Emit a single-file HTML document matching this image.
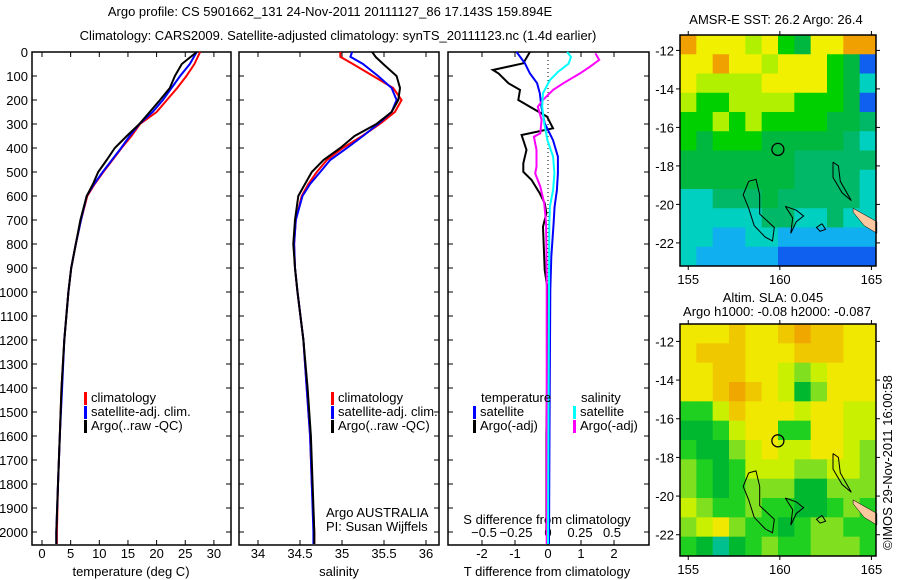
<!DOCTYPE html>
<html><head><meta charset="utf-8"><style>
body{margin:0;background:#fff}
svg{display:block;font-family:"Liberation Sans",sans-serif;font-size:13px}
</style></head><body>
<svg id="fig" width="900" height="580" viewBox="0 0 900 580">
<rect width="900" height="580" fill="#fff"/>
<text x="330" y="16" text-anchor="middle">Argo profile: CS 5901662_131 24-Nov-2011 20111127_86 17.143S 159.894E</text>
<text x="338" y="40" text-anchor="middle">Climatology: CARS2009. Satellite-adjusted climatology: synTS_20111123.nc (1.4d earlier)</text>
<text x="776" y="24" text-anchor="middle">AMSR-E SST: 26.2 Argo: 26.4</text>
<text x="773" y="302" text-anchor="middle">Altim. SLA: 0.045</text>
<text x="777" y="316" text-anchor="middle">Argo h1000: -0.08 h2000: -0.087</text>
<text transform="translate(892,550) rotate(-90)">©IMOS 29-Nov-2011 16:00:58</text>
<g id="g"></g>
</svg>
<script>
// ---- profile data ----
const tDepth=[0,50,100,150,200,250,300,350,400,450,500,550,600,700,800,900,1000,1200,1400,1600,1800,2000,2050];
const tClim=[27.6,26.6,25.2,23.6,21.8,20,17.1,15.6,13.9,12.3,10.7,9.2,7.9,6.8,5.9,5.1,4.6,3.9,3.4,3.1,2.8,2.6,2.6];
const tSat=[27,25.8,24.1,22.6,21.1,19.3,17,15.3,13.8,12.2,10.6,9.1,7.8,6.8,5.9,5.1,4.6,3.9,3.5,3.1,2.8,2.5,2.5];
const tArgo=[27,24.4,23.2,22.3,20.6,18.8,17,14.8,12.7,11.3,9.8,8.9,7.8,6.7,5.9,5.1,4.6,3.9,3.4,3.1,2.8,2.5,2.5];
const sDepth=[0,20,50,100,150,200,250,300,350,400,450,500,550,600,700,800,900,1000,1200,1400,1600,1800,2000,2050];
const sClim=[34.98,34.98,35.13,35.37,35.61,35.71,35.63,35.45,35.24,35.01,34.82,34.70,34.60,34.52,34.45,34.43,34.44,34.47,34.54,34.58,34.62,34.64,34.67,34.67];
const sSat=[35.12,35.1,35.25,35.43,35.59,35.65,35.59,35.43,35.25,35.06,34.86,34.74,34.62,34.53,34.45,34.43,34.44,34.47,34.54,34.58,34.62,34.64,34.66,34.66];
const sArgo=[35.36,35.4,35.49,35.65,35.69,35.67,35.59,35.41,35.15,34.98,34.78,34.64,34.56,34.48,34.44,34.42,34.44,34.47,34.54,34.59,34.63,34.65,34.67,34.67];
const dtArgoDepth=[0,47,75,89,130,158,200,228,269,318,346,408,464,499,533,589,630,672,728,908,1000,1600,1900,2000];
const dtArgo=[-0.55,-0.75,-1.67,-1.5,-1.2,-0.85,-0.9,-0.55,-0.03,0.15,-0.8,-0.65,-0.75,-0.75,-0.5,-0.25,-0.1,-0.05,-0.15,-0.1,0,-0.05,-0.05,-0.05];
const dtSatDepth=[0,47,89,130,172,228,297,367,436,506,575,644,714,853,992,1500,2050];
const dtSat=[-0.95,-0.7,-0.55,-0.33,-0.25,-0.2,-0.1,0.15,0.3,0.3,0.27,0.2,0.17,0.1,0.07,0.05,0.03];
const dsSatDepth=[0,21,49,82,117,172,228,297,367,436,506,575,644,714,2050];
const dsSat=[0.15,0.18,0.16,0.08,0.015,-0.04,-0.045,-0.03,-0.005,0.04,0.05,0.04,0.015,0.01,0];
const dsArgoDepth=[6,33,61,89,130,158,200,228,283,339,353,408,478,506,561,630,714,922,2050];
const dsArgo=[0.37,0.4,0.33,0.25,0.12,0.04,-0.04,-0.08,-0.05,-0.06,-0.11,-0.09,-0.09,-0.1,-0.06,-0.03,-0.015,-0.01,-0.01];
const depthTicks=[0,100,200,300,400,500,600,700,800,900,1000,1100,1200,1300,1400,1500,1600,1700,1800,1900,2000];
const tTicks=[0,5,10,15,20,25,30];
const sTicks=[34,34.5,35,35.5,36];
const dtTicks=[-2,-1,0,1,2];
const dsTicks=[-0.5,-0.25,0,0.25,0.5];
// ---- map data (levels) ----
const sstGrid=[
[9,8,8,8,7,8,6,5,8,8,9,9],[8,8,9,8,8,7,8,8,8,6,5,1],[8,7,7,7,7,8,8,8,8,6,5,3],[7,6,6,7,7,7,7,6,6,6,5,1],
[6,6,7,6,7,6,6,6,6,5,5,4],[6,5,6,6,6,5,5,5,5,5,4,3],[5,5,5,5,5,5,5,4,4,4,4,4],[5,5,5,5,5,5,5,4,4,4,4,3],
[3,3,4,4,4,5,4,4,4,4,4,3],[3,3,3,3,3,4,4,3,3,4,3,3],[3,3,2,2,3,3,2,2,2,2,2,2],[3,2,2,2,2,2,1,1,1,1,1,1]];
const slaGrid=[
[5,5,5,6,5,5,6,7,6,6,5,5],[5,6,6,6,5,5,5,6,6,6,5,5],[5,5,6,6,5,5,4,3,4,5,5,5],[5,5,6,7,6,5,4,1,3,5,5,5],
[2,2,4,6,5,5,5,4,5,5,4,4],[1,1,2,4,5,5,2,2,5,5,4,4],[2,1,1,3,4,5,4,4,5,5,4,3],[3,2,1,2,4,4,4,3,3,4,4,3],
[3,2,1,2,3,3,3,1,1,3,3,3],[4,3,2,2,3,2,2,1,1,2,3,2],[3,4,5,3,2,2,1,2,3,3,2,2],[2,1,0,1,2,3,2,2,3,3,3,2]];
const lonTicks=[155,160,165];
const latTicks=[-12,-14,-16,-18,-20,-22];
const argoLon=159.894, argoLat=-17.143;

const NS='http://www.w3.org/2000/svg';
const G=document.getElementById('g');
function mk(tag,attrs,parent){const e=document.createElementNS(NS,tag);for(const k in attrs)e.setAttribute(k,attrs[k]);(parent||G).appendChild(e);return e;}
const yD=d=>52+0.24*d;
const xT=v=>42+5.73*v;
const xS=v=>258+84*(v-34);
const xDT=v=>548+33*v;
const xDS=v=>548+128*v;

function line(xs,ds,xf,color,name){
  const pts=xs.map((v,i)=>xf(v).toFixed(1)+','+yD(ds[i]).toFixed(1)).join(' ');
  const p=mk('polyline',{points:pts,fill:'none',stroke:color,'stroke-width':2});
  
  
}
function panel(x0,x1,name){
  const r=mk('rect',{x:x0,y:52,width:x1-x0,height:493,fill:'none',stroke:'#000','stroke-width':1.5});
  
  
  depthTicks.forEach(d=>{const y=yD(d);mk('line',{x1:x0,x2:x0+5,y1:y,y2:y,stroke:'#000'});mk('line',{x1:x1-5,x2:x1,y1:y,y2:y,stroke:'#000'});});
}
function xticks(vals,xf,ylab,fmt,top){
  vals.forEach(v=>{const x=xf(v);mk('line',{x1:x,x2:x,y1:540,y2:545,stroke:'#000'});if(top)mk('line',{x1:x,x2:x,y1:52,y2:57,stroke:'#000'});
    const t=mk('text',{x:x,y:ylab,'text-anchor':'middle'});t.textContent=fmt?fmt(v):v;
    
    });
}
function txt(x,y,s,name,anchor){const t=mk('text',{x:x,y:y,'text-anchor':anchor||'start'});t.textContent=s;
  
  return t;}

panel(32,231,'temperature-panel');panel(239,439,'salinity-panel');panel(448,649,'difference-panel');
depthTicks.forEach(d=>{const t=mk('text',{x:28,y:yD(d)+5,'text-anchor':'end'});t.textContent=d;
  
  });
xticks(tTicks,xT,558,null,true);
xticks(sTicks,xS,558,null,true);
xticks(dtTicks,xDT,558,null,true);
dsTicks.forEach(v=>{const x=xDS(v);const t=mk('text',{x:x,y:537,'text-anchor':'middle','fill':'#000'});t.textContent=(v<0?'−':'')+Math.abs(v);
  
  });
txt(131,576,'temperature (deg C)','x-axis-title-temperature','middle');
txt(339,576,'salinity','x-axis-title-salinity','middle');
txt(547,576,'T difference from climatology','x-axis-title-t-diff','middle');
txt(547,524,'S difference from climatology','axis-title-s-diff','middle');
mk('line',{x1:548,x2:548,y1:52,y2:545,stroke:'#000','stroke-dasharray':'1,3'});

line(tClim,tDepth,xT,'#f00','temp-climatology-line');
line(tSat,tDepth,xT,'#00f','temp-satellite-line');
line(tArgo,tDepth,xT,'#000','temp-argo-line');
line(sClim,sDepth,xS,'#f00','sal-climatology-line');
line(sSat,sDepth,xS,'#00f','sal-satellite-line');
line(sArgo,sDepth,xS,'#000','sal-argo-line');
line(dtArgo,dtArgoDepth,xDT,'#000','t-diff-argo-line');
line(dtSat,dtSatDepth,xDT,'#00f','t-diff-satellite-line');
line(dsArgo,dsArgoDepth,xDS,'#f0f','s-diff-argo-line');
line(dsSat,dsSatDepth,xDS,'#0ff','s-diff-satellite-line');

function legend(x,y,color,label,name){mk('rect',{x:x,y:y-10,width:3,height:13,fill:color});txt(x+7,y,label,name);}
[[90,'temperature'],[337,'salinity']].forEach(([lx,p])=>{
  legend(lx-6,402,'#f00','climatology','legend-climatology-'+p);
  legend(lx-6,416,'#00f','satellite-adj. clim.','legend-satellite-'+p);
  legend(lx-6,430,'#000','Argo(..raw -QC)','legend-argo-'+p);
});
txt(481,402,'temperature','legend-temperature-header');
legend(473,416,'#00f','satellite','legend-t-satellite');
legend(473,430,'#000','Argo(-adj)','legend-t-argo');
txt(581,402,'salinity','legend-salinity-header');
legend(573,416,'#0ff','satellite','legend-s-satellite');
legend(573,430,'#f0f','Argo(-adj)','legend-s-argo');
txt(326,517,'Argo AUSTRALIA','institution-label');
txt(326,531,'PI: Susan Wijffels','pi-label');

const sstCols=['#000080','#1060f0','#10b0f0','#00d0c0','#00b868','#00b840','#00d000','#b0f000','#f0f000','#f0a000'];
const slaCols=['#00c090','#00b830','#20d020','#80e020','#c8f000','#f0e800','#f0c800','#f0a800'];
function map(y0,y1,latTop,latBot,grid,cols,name){
  const x0=680,x1=876,lonL=154.55,lonR=165.25;
  const X=lo=>x0+(lo-lonL)/(lonR-lonL)*(x1-x0);
  const Y=la=>y0+(latTop-la)/(latTop-latBot)*(y1-y0);
  const nr=grid.length,nc=grid[0].length;
  grid.forEach((row,i)=>row.forEach((v,j)=>{
    const lo0=lonL+j*(lonR-lonL)/nc,lo1=lonL+(j+1)*(lonR-lonL)/nc;
    const la0=latTop-i*(latTop-latBot)/nr,la1=latTop-(i+1)*(latTop-latBot)/nr;
    const c=mk('rect',{x:X(lo0),y:Y(la0),width:X(lo1)-X(lo0)+0.5,height:Y(la1)-Y(la0)+0.5,fill:cols[v]});
    
    
  }));
  const P=a=>a.map(p=>X(p[0]).toFixed(1)+','+Y(p[1]).toFixed(1)).join(' ');
  [[[158.3,-18.8],[158.7,-18.7],[158.9,-19.5],[158.9,-20.5],[159.7,-21.2],[159.6,-21.9],[159.2,-21.7],[158.6,-21.1],[158.3,-20.2],[158,-19.5],[158.3,-18.8]],
   [[162.9,-17.8],[163.2,-18.0],[163.3,-18.8],[163.9,-19.8],[163.4,-19.4],[162.9,-18.6],[162.9,-17.8]],
   [[160.3,-20.1],[160.9,-20.3],[161.3,-20.6],[160.9,-20.9],[160.6,-21.5],[160.7,-20.7],[160.3,-20.1]],
   [[162.3,-21.0],[162.5,-21.3],[162.2,-21.4],[162.0,-21.2],[162.3,-21.0]]].forEach(a=>{
    const c=mk('polyline',{points:P(a),fill:'none',stroke:'#000','stroke-width':1});
    
    
  });
  const land=mk('polygon',{points:P([[164,-20.2],[165.3,-20.9],[165.3,-21.5],[164.6,-21.1],[164,-20.4]]),fill:'#fcc8a0',stroke:'#000','stroke-width':0.5});
  
  
  const ci=mk('circle',{cx:X(argoLon),cy:Y(argoLat),r:6,fill:'none',stroke:'#000','stroke-width':1.3});
  
  
  const fr=mk('rect',{x:x0,y:y0,width:x1-x0,height:y1-y0,fill:'none',stroke:'#000','stroke-width':1.5});
  
  
  lonTicks.forEach(lo=>{const x=X(lo);mk('line',{x1:x,x2:x,y1:y0-4,y2:y0,stroke:'#000'});mk('line',{x1:x,x2:x,y1:y1,y2:y1+4,stroke:'#000'});
    const t=mk('text',{x:x,y:y1+18,'text-anchor':'middle'});t.textContent=lo;
    
    });
  latTicks.forEach(la=>{const y=Y(la);mk('line',{x1:x0-4,x2:x0,y1:y,y2:y,stroke:'#000'});mk('line',{x1:x1,x2:x1+4,y1:y,y2:y,stroke:'#000'});
    const t=mk('text',{x:x0-6,y:y+5,'text-anchor':'end'});t.textContent=la;
    
    });
}
map(35,266,-11.2,-23.2,sstGrid,sstCols,'sst-map');
map(324,556,-11.1,-23.1,slaGrid,slaCols,'sla-map');
</script>
</body></html>
